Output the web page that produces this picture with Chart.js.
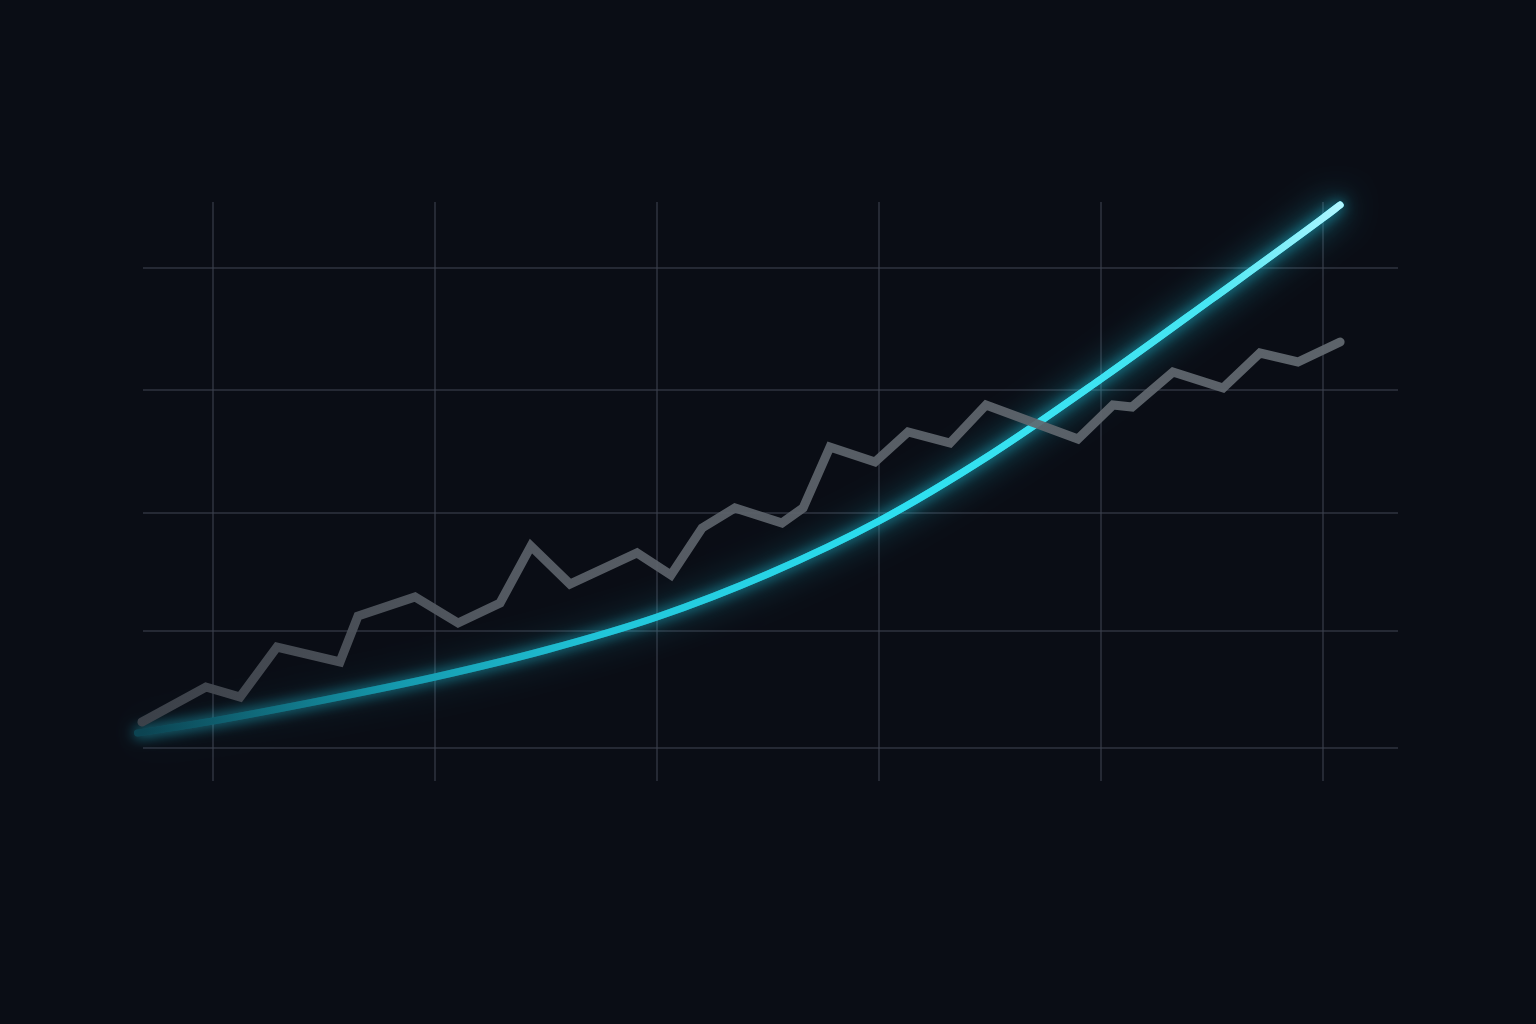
<!DOCTYPE html>
<html>
<head>
<meta charset="utf-8">
<title>Growth curve</title>
<script src="https://cdn.jsdelivr.net/npm/chart.js@4.4.1/dist/chart.umd.min.js"></script>
<style>
  html, body { margin: 0; padding: 0; background: #0a0d15; }
  #wrap { width: 1536px; height: 1024px; }
</style>
</head>
<body>
<div id="wrap"><canvas id="grafica" width="1536" height="1024"></canvas></div>
<script>
// grid positions (x in grid units, y in px-from-bottom units)
const xTicks = [0, 1, 2, 3, 4, 5];
const yTicks = [33, 150, 268, 391, 513];

// jagged gray series
const grayX = [-0.32, -0.032, 0.122, 0.288, 0.572, 0.653, 0.910, 1.104, 1.293, 1.432, 1.608, 1.910, 2.063, 2.203, 2.351, 2.563, 2.658, 2.779, 2.982, 3.131, 3.320, 3.482, 3.896, 4.054, 4.140, 4.324, 4.550, 4.716, 4.887, 5.077];
const grayY = [59, 94, 84, 134, 119, 165, 184, 158, 178, 235, 197, 228, 206, 253, 273, 258, 273, 334, 319, 349, 338, 376, 342, 376, 374, 409, 393, 428, 419, 439];

// smooth glowing curve
const cyanX = [-0.34, 0, 0.5, 1, 1.5, 2, 2.5, 3, 3.5, 4, 4.5, 5, 5.077];
const cyanY = [48, 60, 81, 104, 131, 164, 207, 260, 326, 402, 482, 563, 576];

const toPoints = (xs, ys) => xs.map((x, i) => ({ x: x, y: ys[i] }));

function gradCyan(context) {
    const { ctx, chartArea } = context.chart;
    if (!chartArea) return '#22d3ee';
    const g = ctx.createLinearGradient(chartArea.left, 0, chartArea.right, 0);
    g.addColorStop(0, '#0c4452');
    g.addColorStop(0.2, '#1599ad');
    g.addColorStop(0.37, '#21c6da');
    g.addColorStop(0.6, '#2ddff0');
    g.addColorStop(0.85, '#48e6f3');
    g.addColorStop(0.955, '#b0f6ff');
    g.addColorStop(1, '#c8faff');
    return g;
}

// halo stroke: alpha ramps up to the right so the glow does too
function gradHalo(context) {
    const { ctx, chartArea } = context.chart;
    if (!chartArea) return 'rgba(34, 211, 238, 0.5)';
    const g = ctx.createLinearGradient(chartArea.left, 0, chartArea.right, 0);
    g.addColorStop(0, 'rgba(20, 120, 140, 0.1)');
    g.addColorStop(0.3, 'rgba(30, 190, 210, 0.4)');
    g.addColorStop(0.7, 'rgba(40, 220, 238, 0.9)');
    g.addColorStop(1, 'rgba(90, 235, 250, 1)');
    return g;
}

function gradGray(context) {
    const { ctx, chartArea } = context.chart;
    if (!chartArea) return '#5d646c';
    const g = ctx.createLinearGradient(chartArea.left, 0, chartArea.right, 0);
    g.addColorStop(0, 'rgba(62, 67, 75, 0.95)');
    g.addColorStop(0.3, 'rgba(90, 96, 104, 0.92)');
    g.addColorStop(1, 'rgba(100, 107, 114, 0.92)');
    return g;
}

// glow for the cyan line
const glowPlugin = {
    id: 'glow',
    beforeDatasetDraw(chart, args) {
        const ds = chart.data.datasets[args.index];
        if (!ds.glow) return;
        chart.ctx.save();
        chart.ctx.shadowColor = ds.glow.color;
        chart.ctx.shadowBlur = ds.glow.blur;
    },
    afterDatasetDraw(chart, args) {
        const ds = chart.data.datasets[args.index];
        if (!ds.glow) return;
        chart.ctx.restore();
    }
};

const bgPlugin = {
    id: 'bg',
    beforeDraw(chart) {
        const c = chart.ctx;
        c.save();
        c.fillStyle = '#0a0d15';
        c.fillRect(0, 0, chart.width, chart.height);
        c.restore();
    }
};

const grafica = new Chart(document.getElementById('grafica').getContext('2d'), {
    type: 'line',
    data: {
        datasets: [
            {
                label: 'gray',
                data: toPoints(grayX, grayY),
                borderColor: gradGray,
                borderWidth: 9,
                borderJoinStyle: 'miter',
                borderCapStyle: 'round',
                tension: 0,
                pointRadius: 0,
                clip: false
            },
            {
                label: 'cyan',
                data: toPoints(cyanX, cyanY),
                borderColor: gradCyan,
                borderWidth: 7,
                borderCapStyle: 'round',
                cubicInterpolationMode: 'monotone',
                pointRadius: 0,
                clip: false,
                glow: { color: 'rgba(34, 211, 238, 0.75)', blur: 14 }
            },
            {
                label: 'halo',
                data: toPoints(cyanX, cyanY),
                borderColor: gradHalo,
                borderWidth: 7,
                borderCapStyle: 'round',
                cubicInterpolationMode: 'monotone',
                pointRadius: 0,
                clip: false,
                glow: { color: 'rgba(34, 211, 238, 1)', blur: 34 }
            }
        ]
    },
    options: {
        responsive: false,
        animation: false,
        layout: { padding: { left: 143, right: 138, top: 202, bottom: 243 } },
        plugins: {
            legend: { display: false },
            tooltip: { enabled: false }
        },
        scales: {
            x: {
                type: 'linear',
                min: -0.3153,
                max: 5.3378,
                afterBuildTicks: (scale) => { scale.ticks = xTicks.map(v => ({ value: v })); },
                ticks: { display: false },
                border: { display: false },
                grid: { color: 'rgba(60, 65, 78, 0.55)', lineWidth: 2, drawTicks: false }
            },
            y: {
                type: 'linear',
                min: 0,
                max: 579,
                afterBuildTicks: (scale) => { scale.ticks = yTicks.map(v => ({ value: v })); },
                ticks: { display: false },
                border: { display: false },
                grid: { color: 'rgba(60, 65, 78, 0.55)', lineWidth: 2, drawTicks: false }
            }
        }
    },
    plugins: [bgPlugin, glowPlugin]
});
</script>
</body>
</html>
